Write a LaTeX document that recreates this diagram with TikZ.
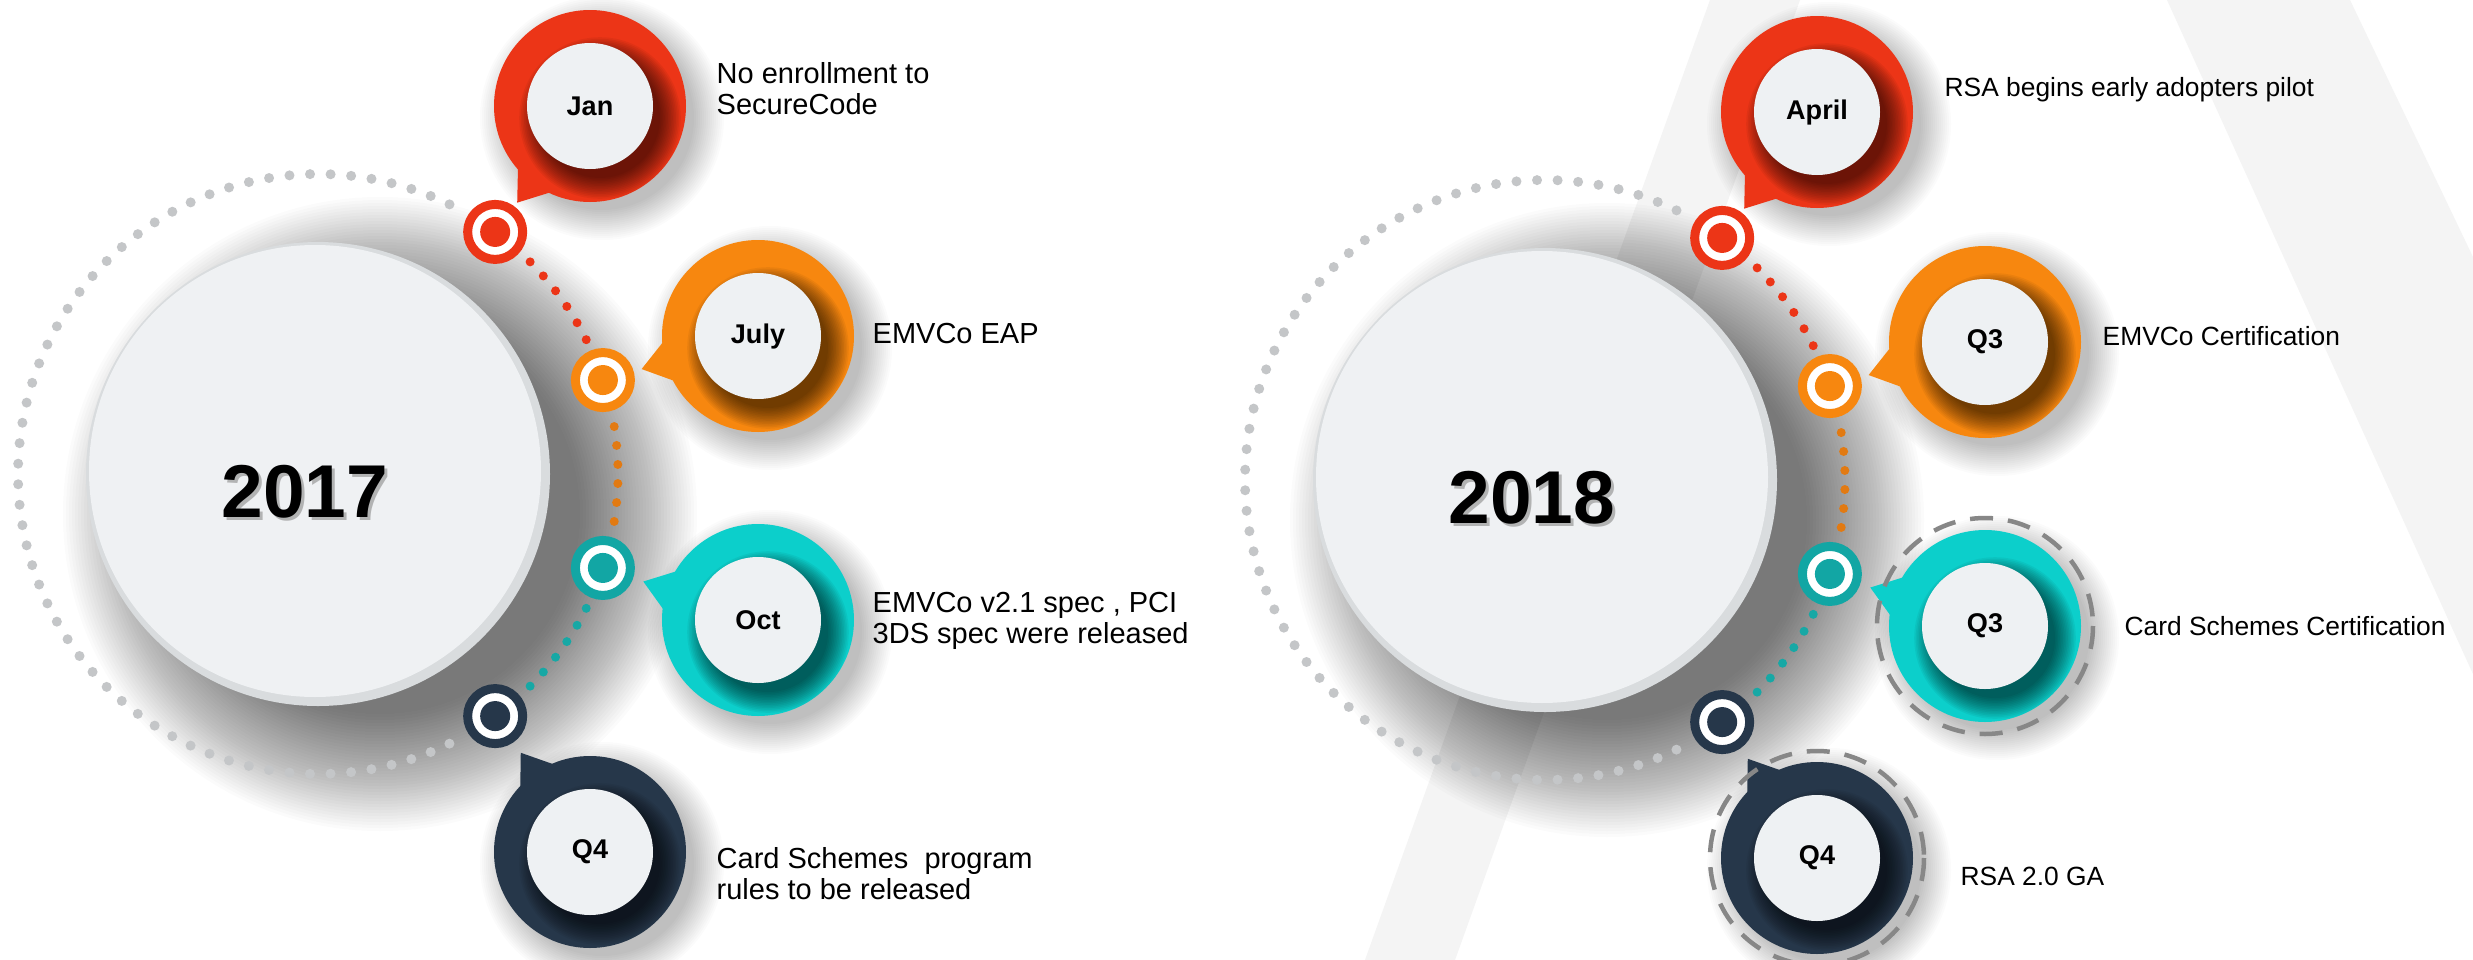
\documentclass[tikz,border=0pt]{standalone}
\usepackage{fontspec}
\setmainfont{Liberation Sans}
\usetikzlibrary{calc}

\definecolor{evred}{HTML}{EC3517}
\definecolor{evorange}{HTML}{F7870F}
\definecolor{evorangedot}{HTML}{E27A12}
\definecolor{evteal}{HTML}{0CCFCB}
\definecolor{evtealdark}{HTML}{12A6A4}
\definecolor{evtealdot}{HTML}{17A8A5}
\definecolor{evnavy}{HTML}{26374A}
\definecolor{discwhite}{HTML}{EEF1F3}
\definecolor{rimgray}{HTML}{D9DCDE}
\definecolor{facegray}{HTML}{EFF1F3}
\definecolor{dotgray}{HTML}{C4C6C8}
\definecolor{dashgray}{HTML}{878787}
\definecolor{backgray}{HTML}{F4F4F4}

% speech bubble: #1 node name, #2 position, #3 marker node, #4 colour, #5 label
\newcommand\evbubble[5]{%
  \coordinate (#1-c) at #2;
  \foreach \k in {0,...,15}
    \fill[black,opacity=0.016] ($(#1-c)+(12,12)$) circle ({92+2*\k});
  \fill[#4] ($(#1-c)!12.1mm!(#3.center)$) -- ($(#1-c)!9.4mm!13:(#3.center)$)
    -- (#1-c) -- ($(#1-c)!9.4mm!-13:(#3.center)$) -- cycle;
  \fill[#4] (#1-c) circle (96);
  \begin{scope}
    \clip (#1-c) circle (96);
    \foreach \k in {0,...,13}
      \fill[black,opacity=0.05] ($(#1-c)+(10,12)$) circle ({60+1.6*\k});
  \end{scope}
  \node[disc] (#1) at (#1-c) {#5};
}

% one year: #1 prefix, #2 year, #3-#6 milestone labels
\newcommand\yeargroup[6]{%
  \coordinate (#1-o) at (318,474);
  % soft shadow under the year disc, cast to the lower right
  \foreach \k in {0,...,39}
    \fill[black,opacity=0.014] ($(#1-o)+(62,40)$) circle ({200+3*\k});
  % grey dotted arc
  \foreach \i in {0,...,59}
    \fill[dotgray] ($(#1-o)+({-64-\i*3.932}:300)$) circle (5);
  % year disc
  \fill[rimgray] (#1-o) circle (232);
  \fill[facegray] ($(#1-o)+(-3,-3)$) circle (226);
  \node[yeartext, text=black!40, opacity=0.7] at (308,495) {#2};
  \node[yeartext] (#1-year) at (305,492) {#2};
  % coloured dotted segments
  \foreach \i in {0,...,5} {
    \fill[evred] ($(#1-o)+({-45+\i*3.68}:300)$) circle (4.5);
    \fill[evorangedot] ($(#1-o)+({-9.1+\i*3.64}:300)$) circle (4.5);
    \fill[evtealdot] ($(#1-o)+({26.6+\i*3.68}:300)$) circle (4.5);
  }
  % milestone markers
  \node[tlmark=evred] (#1-m1) at ($(#1-o)+(-53.8:300)$) {};
  \node[tlmark=evorange] (#1-m2) at ($(#1-o)+(-18.25:300)$) {};
  \node[tlmark=evtealdark] (#1-m3) at ($(#1-o)+(18.25:300)$) {};
  \node[tlmark=evnavy] (#1-m4) at ($(#1-o)+(53.8:300)$) {};
  % bubbles
  \evbubble{#1-b1}{(590,106)}{#1-m1}{evred}{#3}
  \evbubble{#1-b2}{(758,336)}{#1-m2}{evorange}{#4}
  \evbubble{#1-b3}{(758,620)}{#1-m3}{evteal}{#5}
  \evbubble{#1-b4}{(590,852)}{#1-m4}{evnavy}{#6}
}

\begin{document}
\begin{tikzpicture}[x=0.1mm, y=-0.1mm,
  desc/.style={font=\fontsize{8.25pt}{8.8pt}\selectfont, align=left,
    inner sep=0pt, anchor=base west},
  descsmall/.style={desc, font=\fontsize{7.5pt}{8.5pt}\selectfont},
  disc/.style={circle, fill=discwhite, minimum size=12.6mm, inner sep=0pt,
    font=\fontsize{7.7pt}{8pt}\selectfont\bfseries},
  yeartext/.style={font=\fontsize{21.3pt}{24pt}\selectfont\bfseries, inner sep=0pt},
  tlmark/.style={circle, draw=#1, fill=white, line width=0.9mm,
    minimum size=5.5mm, inner sep=0pt,
    path picture={\fill[#1] (path picture bounding box.center) circle (15);}},
  evdash/.style={draw=dashgray, line width=0.45mm, dash pattern=on 2.3mm off 1.5mm}]

\useasboundingbox (0,0) rectangle (2473,960);
\fill[white] (0,0) rectangle (2473,960);

% faint backdrop letter on the right
\fill[backgray] (1710,0) -- (1800,0) -- (1455,960) -- (1365,960) -- cycle;
\fill[backgray] (2167,0) -- (2350,0) -- (2473,257) -- (2473,674) -- cycle;

\yeargroup{y17}{2017}{Jan}{July}{Oct}{Q4}
\begin{scope}[shift={(1227,6)}]
  \yeargroup{y18}{2018}{April}{Q3}{Q3}{Q4}
\end{scope}

% dashed rings around the certification milestones
\draw[evdash] (y18-b3) circle (108);
\draw[evdash] (y18-b4) circle (107);

% milestone descriptions (multi-line nodes sit on their last baseline)
\node[desc] (t1) at (716,114) {No enrollment to\\SecureCode};
\node[desc] (t2) at (872,343) {EMVCo EAP};
\node[desc] (t3) at (872,643) {EMVCo v2.1 spec , PCI\\3DS spec were released};
\node[desc] (t4) at (716,899) {Card Schemes\ \ program\\rules to be released};
\node[descsmall] (t5) at (1944,96) {RSA begins early adopters pilot};
\node[descsmall] (t6) at (2102,345) {EMVCo Certification};
\node[descsmall] (t7) at (2124,635) {Card Schemes Certification};
\node[descsmall] (t8) at (1960,885) {RSA 2.0 GA};
\end{tikzpicture}
\end{document}
